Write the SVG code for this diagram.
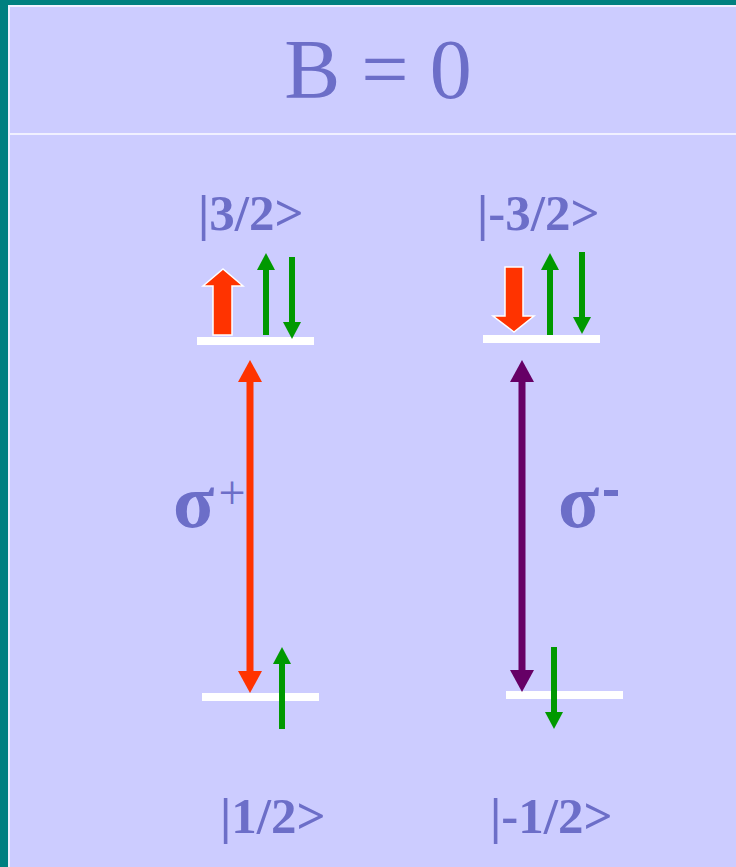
<svg xmlns="http://www.w3.org/2000/svg" width="736" height="867" viewBox="0 0 736 867">
<style>
.lbl{font-family:"Liberation Serif","Times New Roman",serif;font-weight:bold;fill:#6c6ec8;font-size:51px}
.title{font-family:"Liberation Serif","Times New Roman",serif;fill:#6c6ec8;font-size:84px}
.sig{font-family:"Liberation Serif","Times New Roman",serif;font-weight:bold;fill:#6c6ec8;font-size:76px}
.lvl{fill:#ffffff}
.g{stroke:#009900;stroke-width:6;fill:none}
.block{fill:#ff3300;stroke:#ffffff;stroke-width:1.5}
</style>
<defs>
<marker id="gh" viewBox="0 0 17 18" markerWidth="17" markerHeight="18" refX="1" refY="9" orient="auto" markerUnits="userSpaceOnUse"><path d="M0,0 L17,9 L0,18 z" fill="#009900"/></marker>
<marker id="rh" viewBox="0 0 22 24" markerWidth="22" markerHeight="24" refX="1" refY="12" orient="auto-start-reverse" markerUnits="userSpaceOnUse"><path d="M0,0 L22,12 L0,24 z" fill="#ff3300"/></marker>
<marker id="ph" viewBox="0 0 22 24" markerWidth="22" markerHeight="24" refX="1" refY="12" orient="auto-start-reverse" markerUnits="userSpaceOnUse"><path d="M0,0 L22,12 L0,24 z" fill="#660066"/></marker>
</defs>
<rect x="0" y="0" width="736" height="867" fill="#008080"/>
<rect x="8" y="5" width="728" height="862" fill="#f0f0ff"/>
<rect x="10" y="7" width="726" height="126" fill="#ccccff"/>
<rect x="10" y="135" width="726" height="732" fill="#ccccff"/>
<g id="title"><text class="title" x="378" y="98" text-anchor="middle">B = 0</text></g>
<g id="level-3-2">
<rect class="lvl" x="197" y="337" width="117" height="8"/>
<text class="lbl" x="198" y="230">|3/2&gt;</text>
<polygon class="block" points="213,335 213,286 203,286 223,269 243,286 232,286 232,335"/>
<line class="g" x1="266" y1="335" x2="266" y2="269" marker-end="url(#gh)"/>
<line class="g" x1="292" y1="257" x2="292" y2="323" marker-end="url(#gh)"/>
</g>
<g id="level-m3-2">
<rect class="lvl" x="483" y="335" width="117" height="8"/>
<text class="lbl" x="477" y="230">|-3/2&gt;</text>
<polygon class="block" points="505,267 523,267 523,316 534,316 514,332 493,316 505,316"/>
<line class="g" x1="550" y1="335" x2="550" y2="269" marker-end="url(#gh)"/>
<line class="g" x1="582" y1="252" x2="582" y2="318" marker-end="url(#gh)"/>
</g>
<g id="level-1-2">
<rect class="lvl" x="202" y="693" width="117" height="8"/>
<text class="lbl" x="220" y="833">|1/2&gt;</text>
<line class="g" x1="282" y1="729" x2="282" y2="663" marker-end="url(#gh)"/>
</g>
<g id="level-m1-2">
<rect class="lvl" x="506" y="691" width="117" height="8"/>
<text class="lbl" x="490" y="833">|-1/2&gt;</text>
<line class="g" x1="554" y1="647" x2="554" y2="713" marker-end="url(#gh)"/>
</g>
<g id="connectors">
<line x1="250" y1="381" x2="250" y2="672" stroke="#ff3300" stroke-width="7" marker-start="url(#rh)" marker-end="url(#rh)"/>
<line x1="522" y1="381" x2="522" y2="671" stroke="#660066" stroke-width="7" marker-start="url(#ph)" marker-end="url(#ph)"/>
</g>
<g id="sigma-plus"><text class="sig" x="173" y="527">σ</text><text x="232" y="509" text-anchor="middle" font-family="Liberation Serif, serif" font-size="48" fill="#6c6ec8">+</text></g>
<g id="sigma-minus"><text class="sig" x="558" y="527">σ</text><rect x="604" y="490" width="14" height="6" fill="#6c6ec8"/></g>
</svg>
